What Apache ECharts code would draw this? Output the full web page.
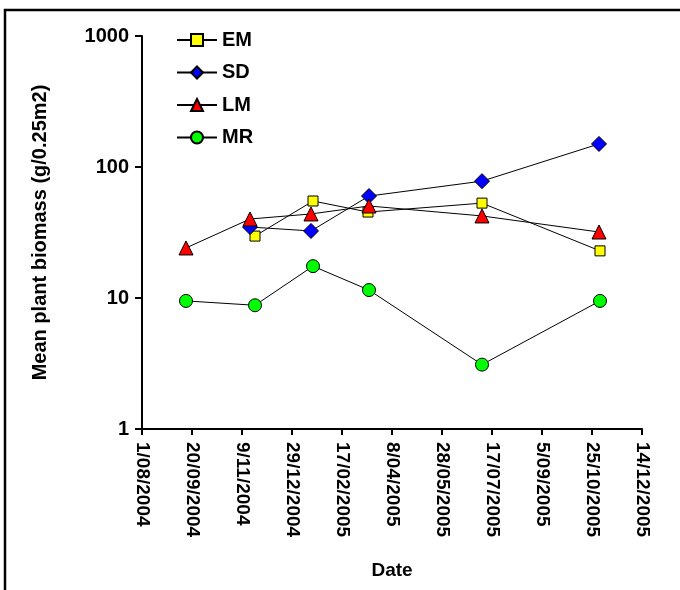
<!DOCTYPE html>
<html>
<head>
<meta charset="utf-8">
<script src="https://cdn.jsdelivr.net/npm/echarts@6/dist/echarts.min.js"></script>
<style>html,body{margin:0;padding:0;background:#fff}#c{width:680px;height:590px}</style>
</head>
<body>
<div id="c"></div>
<script>
// Data (dates as d/mm/yyyy, biomass in g/0.25m2)
const emDates = ['22/11/2004', '19/01/2005', '15/03/2005', '7/07/2005', '2/11/2005'];
const emValues = [29.7, 55, 45.3, 53, 22.9];
const sdDates = ['17/11/2004', '17/01/2005', '16/03/2005', '7/07/2005', '1/11/2005'];
const sdValues = [34.8, 32.5, 60, 78, 150];
const lmDates = ['14/09/2004', '17/11/2004', '17/01/2005', '16/03/2005', '7/07/2005', '1/11/2005'];
const lmValues = [24.1, 40.1, 43.8, 50.4, 42.3, 31.9];
const mrDates = ['14/09/2004', '22/11/2004', '19/01/2005', '16/03/2005', '7/07/2005', '2/11/2005'];
const mrValues = [9.5, 8.8, 17.5, 11.5, 3.1, 9.5];
const xStart = '1/08/2004';
const xEnd = '14/12/2005';
const xStepDays = 50;
const yTicks = [1, 10, 100, 1000];

function parseD(s) {
  const p = s.split('/').map(Number);
  return Date.UTC(p[2], p[1] - 1, p[0]);
}
const DAY = 86400000;
const t0 = parseD(xStart);
function dayOffset(s) { return Math.round((parseD(s) - t0) / DAY); }
function fmt(off) {
  const d = new Date(t0 + off * DAY);
  const mm = String(d.getUTCMonth() + 1).padStart(2, '0');
  return d.getUTCDate() + '/' + mm + '/' + d.getUTCFullYear();
}
function pts(dates, vals) { return dates.map((d, i) => [dayOffset(d), vals[i]]); }

const font = 'Liberation Sans, Arial, sans-serif';
const chart = echarts.init(document.getElementById('c'), null, {renderer: 'canvas'});
const lineStyle = {color: '#000', width: 1};
function series(name, dates, vals, symbol, size, color) {
  return {
    name: name, type: 'line', data: pts(dates, vals),
    symbol: symbol, symbolSize: size, showAllSymbol: true,
    lineStyle: lineStyle,
    itemStyle: {color: color, borderColor: '#000', borderWidth: 1},
    emphasis: {disabled: true}, animation: false
  };
}
chart.setOption({
  animation: false,
  backgroundColor: '#fff',
  graphic: [{
    type: 'rect', shape: {x: 5, y: 10, width: 720, height: 640},
    style: {fill: 'none', stroke: '#000', lineWidth: 2.5}, silent: true
  }],
  legend: {
    orient: 'vertical', left: 171, top: 25,
    itemWidth: 40, itemHeight: 15, itemGap: 12.5,
    textStyle: {fontFamily: font, fontWeight: 'bold', fontSize: 20, color: '#000'},
    data: ['EM', 'SD', 'LM', 'MR']
  },
  grid: {left: 142, top: 36, right: 38, bottom: 161, containLabel: false},
  xAxis: {
    type: 'value', min: 0, max: dayOffset(xEnd), interval: xStepDays,
    name: 'Date', nameLocation: 'middle', nameGap: 132,
    nameTextStyle: {fontFamily: font, fontWeight: 'bold', fontSize: 19, color: '#000'},
    axisLine: {lineStyle: {color: '#000', width: 2}},
    axisTick: {show: true, length: 6, lineStyle: {color: '#000', width: 2}},
    splitLine: {show: false},
    axisLabel: {
      rotate: -90, margin: 13, formatter: v => fmt(v),
      fontFamily: font, fontWeight: 'bold', fontSize: 19, color: '#000'
    }
  },
  yAxis: {
    type: 'log', logBase: 10, min: yTicks[0], max: yTicks[yTicks.length - 1],
    name: 'Mean plant biomass (g/0.25m2)', nameLocation: 'middle', nameGap: 92,
    nameTextStyle: {fontFamily: font, fontWeight: 'bold', fontSize: 20, color: '#000'},
    axisLine: {show: true, lineStyle: {color: '#000', width: 2}},
    axisTick: {show: true, length: 7, lineStyle: {color: '#000', width: 2}},
    minorTick: {show: false},
    splitLine: {show: false},
    axisLabel: {
      formatter: v => String(Math.round(v)),
      fontFamily: font, fontWeight: 'bold', fontSize: 20, color: '#000', margin: 13
    }
  },
  series: [
    series('EM', emDates, emValues, 'rect', 10, '#ffff00'),
    series('SD', sdDates, sdValues, 'diamond', 15, '#0000ff'),
    series('LM', lmDates, lmValues, 'triangle', 14, '#ff0000'),
    series('MR', mrDates, mrValues, 'circle', 13, '#00ff00')
  ]
});
</script>
</body>
</html>
